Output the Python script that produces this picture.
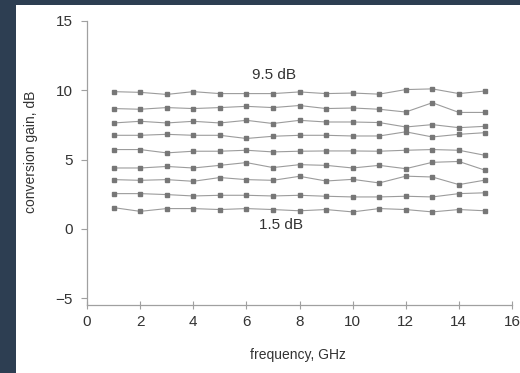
# conversion gain vs frequency, nine LO-power curves
import numpy as np, matplotlib.pyplot as plt

freq = np.arange(1, 16)   # GHz

# conversion gain, dB (top curve first)
g1 = [9.9, 9.85, 9.7, 9.9, 9.76, 9.76, 9.76, 9.88, 9.76, 9.8, 9.72, 10.05, 10.1, 9.76, 9.95]
g2 = [8.68, 8.63, 8.75, 8.68, 8.75, 8.84, 8.75, 8.9, 8.68, 8.72, 8.63, 8.43, 9.1, 8.4, 8.4]
g3 = [7.64, 7.76, 7.64, 7.76, 7.64, 7.83, 7.6, 7.83, 7.71, 7.71, 7.67, 7.35, 7.52, 7.3, 7.4]
g4 = [6.75, 6.75, 6.82, 6.75, 6.75, 6.52, 6.68, 6.75, 6.75, 6.7, 6.7, 7.0, 6.63, 6.82, 6.94]
g5 = [5.72, 5.72, 5.48, 5.6, 5.6, 5.67, 5.55, 5.6, 5.62, 5.62, 5.6, 5.67, 5.72, 5.67, 5.3]
g6 = [4.39, 4.39, 4.5, 4.39, 4.58, 4.78, 4.42, 4.63, 4.58, 4.39, 4.58, 4.34, 4.8, 4.86, 4.22]
g7 = [3.55, 3.5, 3.55, 3.43, 3.7, 3.55, 3.5, 3.79, 3.45, 3.57, 3.31, 3.8, 3.74, 3.19, 3.52]
g8 = [2.54, 2.54, 2.47, 2.37, 2.42, 2.42, 2.37, 2.42, 2.35, 2.3, 2.3, 2.35, 2.3, 2.54, 2.6]
g9 = [1.53, 1.26, 1.46, 1.46, 1.39, 1.46, 1.39, 1.3, 1.39, 1.22, 1.46, 1.39, 1.22, 1.39, 1.3]
curves = [g1, g2, g3, g4, g5, g6, g7, g8, g9]

plt.rcParams['font.family'] = ['Liberation Sans', 'DejaVu Sans']

fig = plt.figure(figsize=(5.2, 3.73), dpi=100, facecolor='#2d3e52')

# white page inside the dark frame
bg = fig.add_axes([16/520, 0, 1 - 16/520, 1 - 5/373], zorder=-1)
bg.set_facecolor('white')
bg.set_xticks([]); bg.set_yticks([])
for s in bg.spines.values():
    s.set_visible(False)

ax = fig.add_axes([87/520, 1 - 305/373, 425/520, 284/373])
ax.set_facecolor('none')
for g in curves:
    ax.plot(freq, g, color='#9c9c9c', lw=0.8, marker='s', ms=2.2,
            mec='#777777', mfc='#777777')

ax.text(7.05, 11.1, '9.5 dB', fontsize=11, color='#333333', ha='center', va='center')
ax.text(7.3, 0.3, '1.5 dB', fontsize=11, color='#333333', ha='center', va='center')

ax.set_xlim(0, 16)
ax.set_ylim(-5.5, 15)
ax.set_xticks(range(0, 17, 2))
ax.set_yticks([-5, 0, 5, 10, 15])
ax.set_yticklabels(['\u22125', '0', '5', '10', '15'])
for s in ['top', 'right']:
    ax.spines[s].set_visible(False)
for s in ['left', 'bottom']:
    ax.spines[s].set_color('#a0a0a0')
    ax.spines[s].set_linewidth(0.9)
ax.tick_params(axis='x', direction='inout', length=6, color='#a0a0a0', labelsize=11,
               labelcolor='#333333', pad=4)
ax.tick_params(axis='y', direction='out', length=4, color='#a0a0a0', labelsize=11,
               labelcolor='#333333', pad=6)

fig.text(298/520, 1 - 355/373, 'frequency, GHz', fontsize=10, color='#333333',
         ha='center', va='center')
fig.text(31/520, 1 - 152/373, 'conversion gain, dB', fontsize=10, color='#333333',
         ha='center', va='center', rotation=90)

plt.savefig('out.png', dpi=100, facecolor=fig.get_facecolor())
